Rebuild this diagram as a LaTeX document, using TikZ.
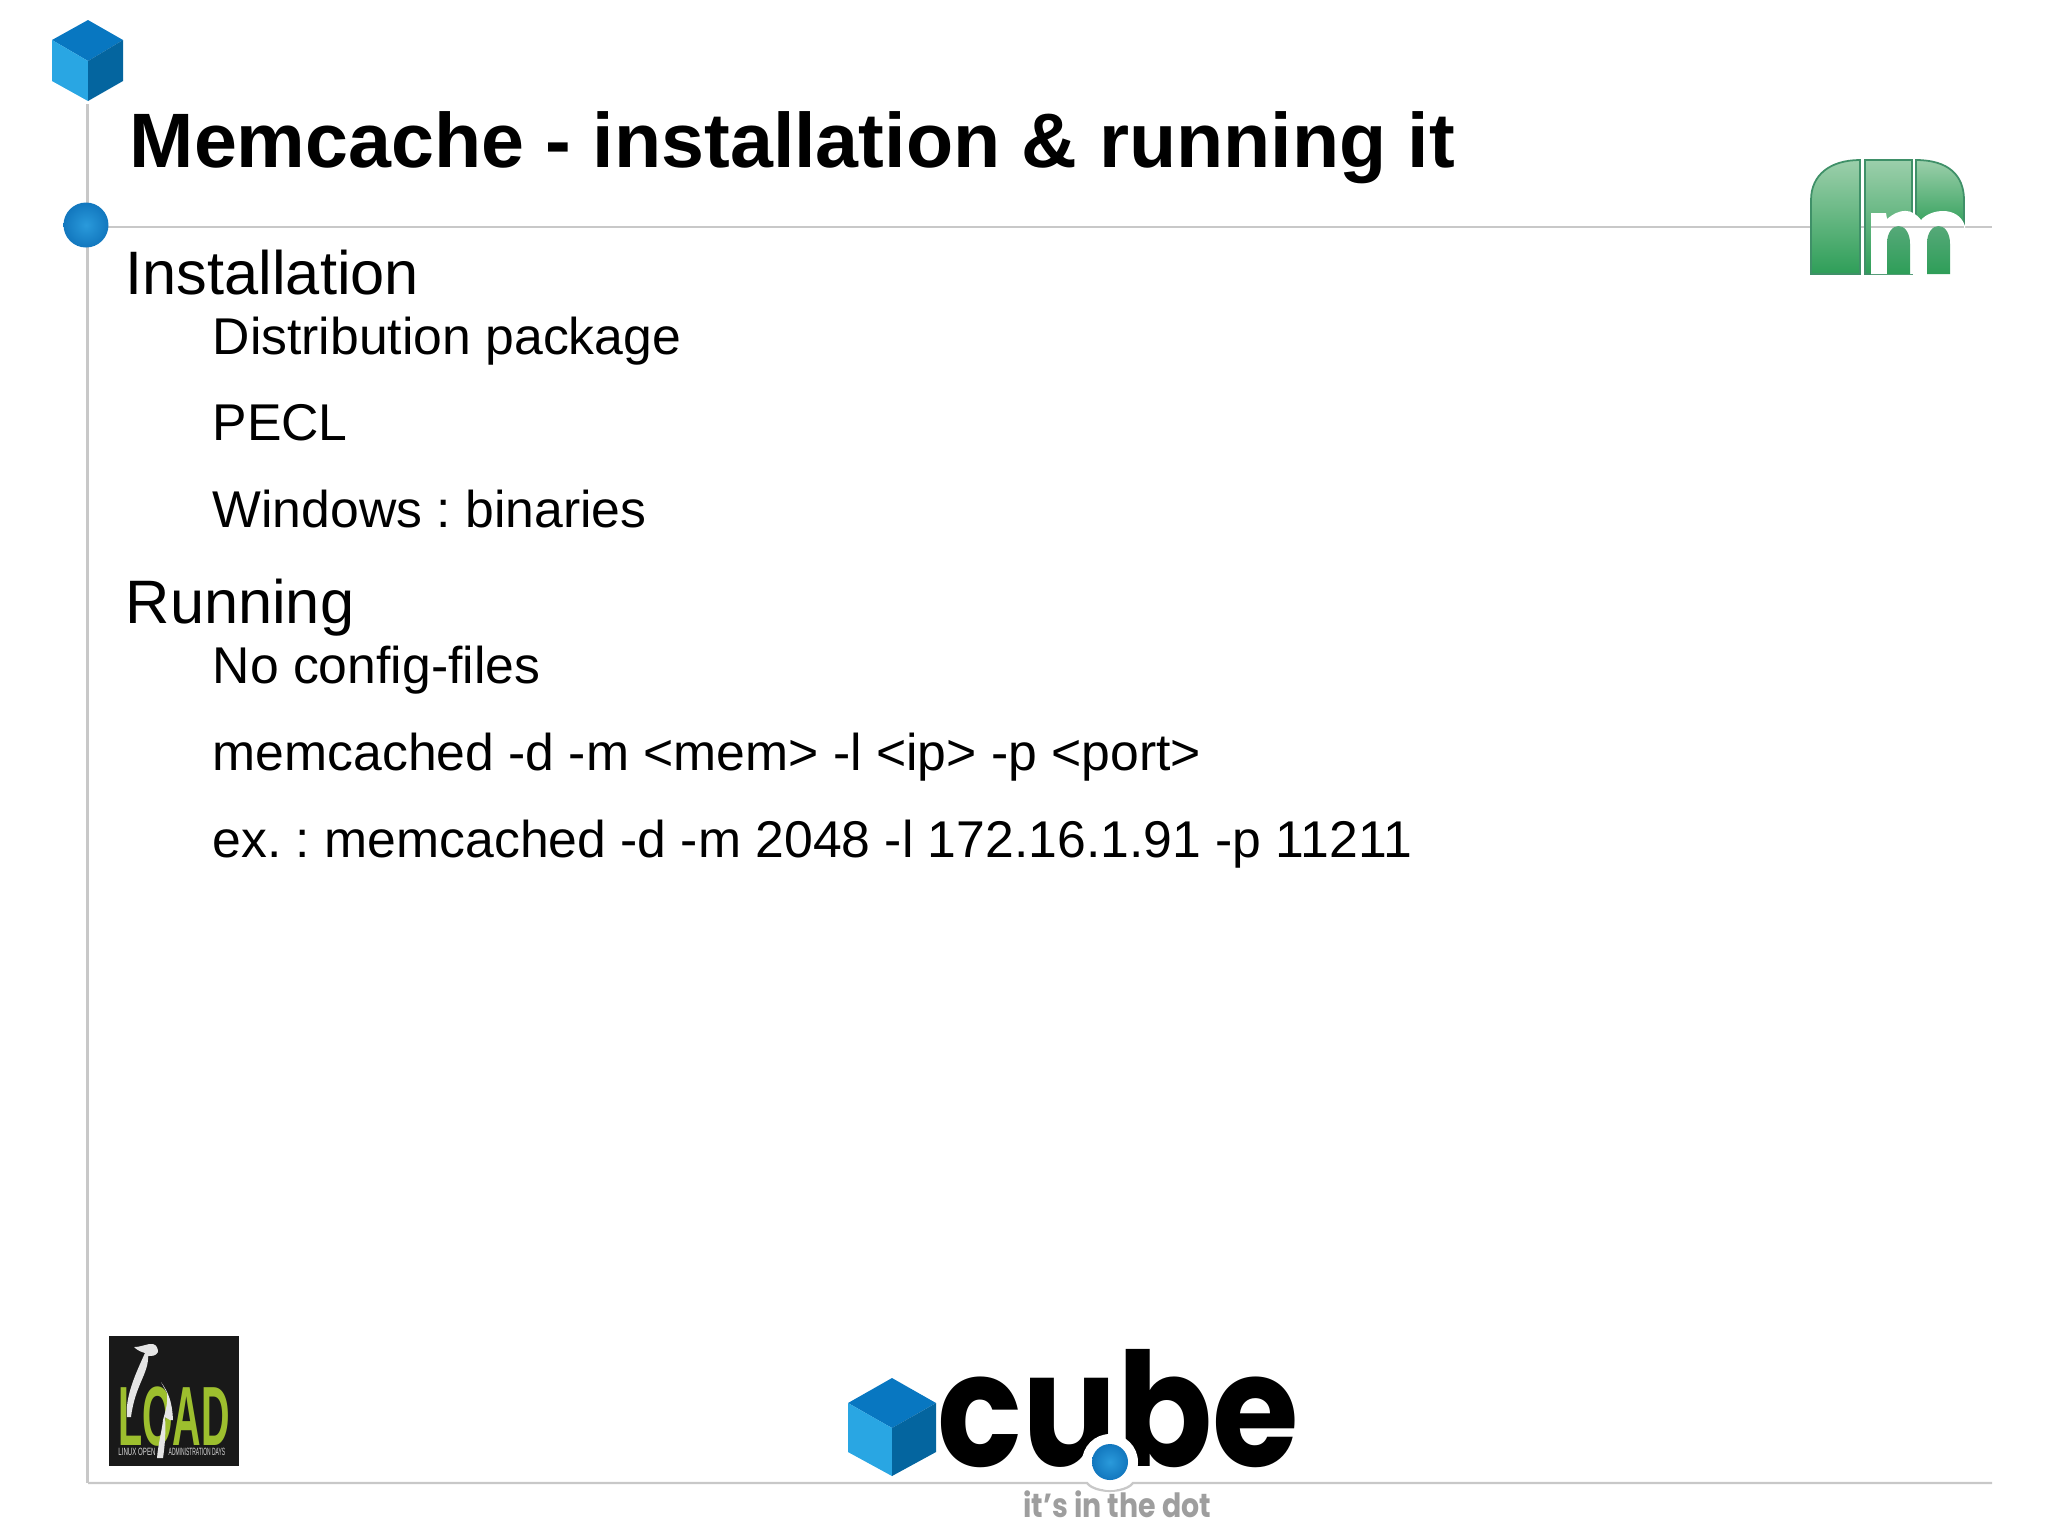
\documentclass[tikz,border=0pt]{standalone}
\usepackage{fontspec}
\setmainfont{Liberation Sans}
\newfontfamily\logofont{Poppins}
\usepackage{tikz}
\definecolor{rulegray}{HTML}{C8C8C8}
\definecolor{cubelight}{HTML}{29A6E3}
\definecolor{cubetop}{HTML}{0877C1}
\definecolor{cubedark}{HTML}{04659F}
\definecolor{balllight}{HTML}{2A9ADB}
\definecolor{ballrim}{HTML}{1277BE}
\definecolor{loadgreen}{HTML}{9DBF2E}
\definecolor{elegreen}{HTML}{3F9068}
\definecolor{elepale}{HTML}{9CCFAB}
\definecolor{elemid}{HTML}{5BAA7D}
\definecolor{elefoot}{HTML}{2E9E58}
\tikzset{
    titletext/.style={anchor=base west, inner sep=0pt, font=\fontsize{21.95pt}{26pt}\selectfont\bfseries},
    headtext/.style={anchor=base west, inner sep=0pt, font=\fontsize{17.45pt}{20pt}\selectfont},
    subtext/.style={anchor=base west, inner sep=0pt, font=\fontsize{14.7pt}{18pt}\selectfont},
    rule/.style={rulegray, line width=0.65pt},
    ball/.style={inner color=balllight, outer color=ballrim},
    eleblock/.style={draw=elegreen, line width=0.5pt, top color=#1, bottom color=elefoot},
    eleblock/.default={elepale},
    tinytext/.style={text=white!85!black, inner sep=0pt, font=\fontsize{3pt}{3pt}\selectfont}
}
\begin{document}
\frenchspacing
\begin{tikzpicture}[x=0.01cm, y=-0.01cm]
    \useasboundingbox (0, 0) rectangle (2048, 1535);

    % Rules of the slide
    \draw[rule] (87.5, 104) -- (87.5, 1483);
    \draw[rule] (108, 227) -- (1992, 227);
    \draw[rule] (88, 1483) -- (1087, 1483) arc[start angle=200, end angle=340, x radius=24.5, y radius=-12] -- (1992, 1483);

    % Small cube at the top
    \fill[cubetop] (88, 20) -- (123, 40) -- (88, 61) -- (52, 40) -- cycle;
    \fill[cubelight] (52, 40) -- (88, 61) -- (88, 101) -- (52, 81) -- cycle;
    \fill[cubedark] (123, 40) -- (88, 61) -- (88, 101) -- (123, 81) -- cycle;

    % Dot on the rule
    \shade[ball] (86, 225) circle[radius=22.5];

    % Title and items
    \node[titletext] (title) at (129, 167) {Memcache - installation \& running it};
    \node[headtext] (install) at (125, 294) {Installation};
    \node[subtext] (distrib) at (212, 354) {Distribution package};
    \node[subtext] (pecl) at (212, 440) {PECL};
    \node[subtext] (windows) at (212, 527) {Windows : binaries};
    \node[headtext] (running) at (125, 623) {Running};
    \node[subtext] (noconfig) at (212, 683) {No config-files};
    \node[subtext] (usage) at (212, 770) {memcached -d -m <mem> -l <ip> -p <port>};
    \node[subtext] (sample) at (212, 857) {ex. : memcached -d -m 2048 -l 172.16.1.91 -p 11211};

    % Green logo, top right
    \shade[eleblock] (1811, 274) -- (1811, 200) .. controls (1811, 175) and (1830, 160) .. (1860, 160) -- (1860, 274) -- cycle;
    \shade[eleblock] (1865, 160) -- (1912, 160) -- (1912, 274) -- (1865, 274) -- cycle;
    \shade[eleblock] (1916, 160) .. controls (1948, 160) and (1964, 175) .. (1964, 200) -- (1964, 230) -- (1916, 230) -- cycle;
    \fill[white] (1871, 274) -- (1871, 213) -- (1886, 213) -- (1887, 219) .. controls (1900, 208) and (1912, 208) .. (1921, 220) .. controls (1930, 209) and (1958, 205) .. (1965, 226) -- (1965, 274) -- cycle;
    \draw[rule] (1871, 227) -- (1964, 227);
    \shade[eleblock=elemid, draw=none] (1887, 274) -- (1887, 244) .. controls (1887, 220) and (1910, 220) .. (1910, 244) -- (1910, 274) -- cycle;
    \shade[eleblock=elemid, draw=none] (1927, 274) -- (1927, 244) .. controls (1927, 220) and (1950, 220) .. (1950, 244) -- (1950, 274) -- cycle;

    % LOAD logo, bottom left
    \fill[black!90] (109, 1336) rectangle (239, 1466);
    \node[anchor=base, text=loadgreen, xscale=0.47, inner sep=0pt, font=\fontsize{23.9pt}{24pt}\selectfont\bfseries] (load) at (174, 1445) {LOAD};
    \node[tinytext, xscale=0.58] (linux) at (137, 1452) {LINUX OPEN};
    \node[tinytext, xscale=0.47] (admin) at (197, 1452) {ADMINISTRATION DAYS};
    % Penguin
    \fill[white!90!black] (134, 1347) .. controls (142, 1347) and (148, 1343) .. (153, 1344) .. controls (157, 1345) and (158, 1349) .. (158, 1352) .. controls (156, 1356) and (152, 1356) .. (148, 1356) .. controls (149, 1373) and (135, 1385) .. (131, 1417) -- (127, 1417) .. controls (125, 1397) and (135, 1375) .. (145, 1353) .. controls (141, 1352) and (137, 1350) .. (134, 1347) -- cycle;
    \fill[white!90!black] (161, 1382) .. controls (168, 1392) and (172, 1400) .. (173, 1420) -- (170, 1420) -- (165, 1417) .. controls (166, 1430) and (165, 1445) .. (163, 1458) -- (157, 1458) .. controls (158, 1445) and (162, 1430) .. (163, 1420) .. controls (165, 1412) and (168, 1405) .. (167, 1393) -- cycle;

    % Cube logo, bottom centre
    \fill[cubetop] (892, 1378) -- (936, 1403) -- (892, 1428) -- (848, 1403) -- cycle;
    \fill[cubelight] (848, 1403) -- (892, 1428) -- (892, 1476) -- (848, 1452) -- cycle;
    \fill[cubedark] (936, 1403) -- (892, 1428) -- (892, 1476) -- (936, 1452) -- cycle;
    \node[anchor=base west, inner sep=0pt, xscale=0.887, font=\logofont\bfseries\fontsize{45pt}{45pt}\selectfont] (cube) at (937, 1466) {cube};
    \fill[white] (1110, 1462) circle[radius=28];
    \shade[ball] (1110, 1462) circle[radius=18];
    \node[anchor=base west, inner sep=0pt, xscale=0.85, text=black!38, font=\logofont\bfseries\fontsize{9.5pt}{10pt}\selectfont] (tagline) at (1023, 1517) {it’s in the dot};
\end{tikzpicture}
\end{document}
